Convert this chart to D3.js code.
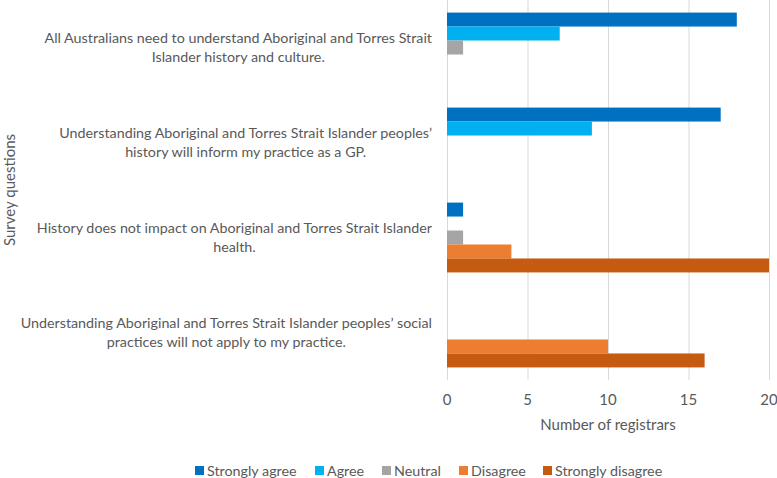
<!DOCTYPE html>
<html>
<head>
<meta charset="utf-8">
<script src="https://cdn.jsdelivr.net/npm/d3@7"></script>
<style>
  body { margin: 0; background: #fff; }
  svg { font-family: Lato, "Open Sans", sans-serif; }
  .grid line { stroke: #d9d9d9; }
  .grid .domain { display: none; }
  text { fill: #595959; }
</style>
</head>
<body>
<svg width="777" height="478"></svg>
<script>
const svg = d3.select("svg");

// survey questions (line breaks as in the original)
const questions = [
    "All Australians need to understand Aboriginal and Torres Strait\nIslander history and culture.",
    "Understanding Aboriginal and Torres Strait Islander peoples’\nhistory will inform my practice as a GP.",
    "History does not impact on Aboriginal and Torres Strait Islander\nhealth.",
    "Understanding Aboriginal and Torres Strait Islander peoples’ social\npractices will not apply to my practice."
];
const responses = ["Strongly agree", "Agree", "Neutral", "Disagree", "Strongly disagree"];
const colors = ["#0070c0", "#00b0f0", "#a5a5a5", "#ed7d31", "#c55a11"];

// counts per response, one value per question
const stronglyAgree = [18, 17, 1, 0];
const agree = [7, 9, 0, 0];
const neutral = [1, 0, 1, 0];
const disagree = [0, 0, 4, 10];
const stronglyDisagree = [0, 0, 20, 16];
const xTicks = [0, 5, 10, 15, 20];

const series = [stronglyAgree, agree, neutral, disagree, stronglyDisagree];

// plot area
let plotLeft = 447,
    plotRight = 769,
    plotTop = 0,
    plotBottom = 380;

const x = d3.scaleLinear().domain([0, 20]).range([plotLeft, plotRight]);
const y = d3.scaleBand().domain(d3.range(questions.length)).range([plotTop, plotBottom]);
const inner = d3.scaleBand().domain(d3.range(responses.length))
    .range([0, y.bandwidth()]).paddingOuter(0.9);

// gridlines
svg.append("g")
    .attr("class", "grid")
    .attr("transform", `translate(0, ${plotBottom})`)
    .call(d3.axisBottom(x).tickValues(xTicks).tickSize(-(plotBottom - plotTop)).tickFormat(""));

// bars
questions.forEach((q, qi) => {
    svg.append("g")
        .selectAll("rect")
        .data(series.map((s, si) => ({ si, v: s[qi] })).filter(d => d.v > 0))
        .enter()
        .append("rect")
        .attr("x", x(0))
        .attr("y", d => y(qi) + inner(d.si))
        .attr("width", d => x(d.v) - x(0))
        .attr("height", inner.bandwidth())
        .attr("fill", d => colors[d.si]);
});

// x tick labels
svg.append("g")
    .selectAll("text")
    .data(xTicks)
    .enter()
    .append("text")
    .attr("x", d => x(d))
    .attr("y", 405)
    .attr("text-anchor", "middle")
    .attr("font-size", 15)
    .text(d => d);

// question labels: block right-aligned, lines centred in the block
questions.forEach((q, qi) => {
    const lines = q.split("\n");
    const g = svg.append("g");
    const texts = g.selectAll("text")
        .data(lines)
        .enter()
        .append("text")
        .attr("font-size", 14.3)
        .attr("text-anchor", "middle")
        .attr("y", (d, i) => y(qi) + y.bandwidth() / 2 + 5 + (i - (lines.length - 1) / 2) * 19)
        .text(d => d);
    let w = 0;
    texts.each(function() { w = Math.max(w, this.getComputedTextLength()); });
    texts.attr("x", 432 - w / 2);
});

// axis titles
svg.append("text")
    .attr("x", x(10))
    .attr("y", 430)
    .attr("text-anchor", "middle")
    .attr("font-size", 15)
    .text("Number of registrars");

svg.append("text")
    .attr("transform", `translate(15, ${(plotTop + plotBottom) / 2}) rotate(-90)`)
    .attr("text-anchor", "middle")
    .attr("font-size", 15)
    .text("Survey questions");

// legend
const legendX = [195, 315, 382, 459, 543];
const legend = svg.append("g")
    .selectAll("g")
    .data(responses)
    .enter()
    .append("g")
    .attr("transform", (d, i) => `translate(${legendX[i]}, 466)`);
legend.append("rect")
    .attr("width", 9)
    .attr("height", 9)
    .attr("fill", (d, i) => colors[i]);
legend.append("text")
    .attr("x", 12)
    .attr("y", 9.5)
    .attr("font-size", 14.3)
    .text(d => d);
</script>
</body>
</html>
